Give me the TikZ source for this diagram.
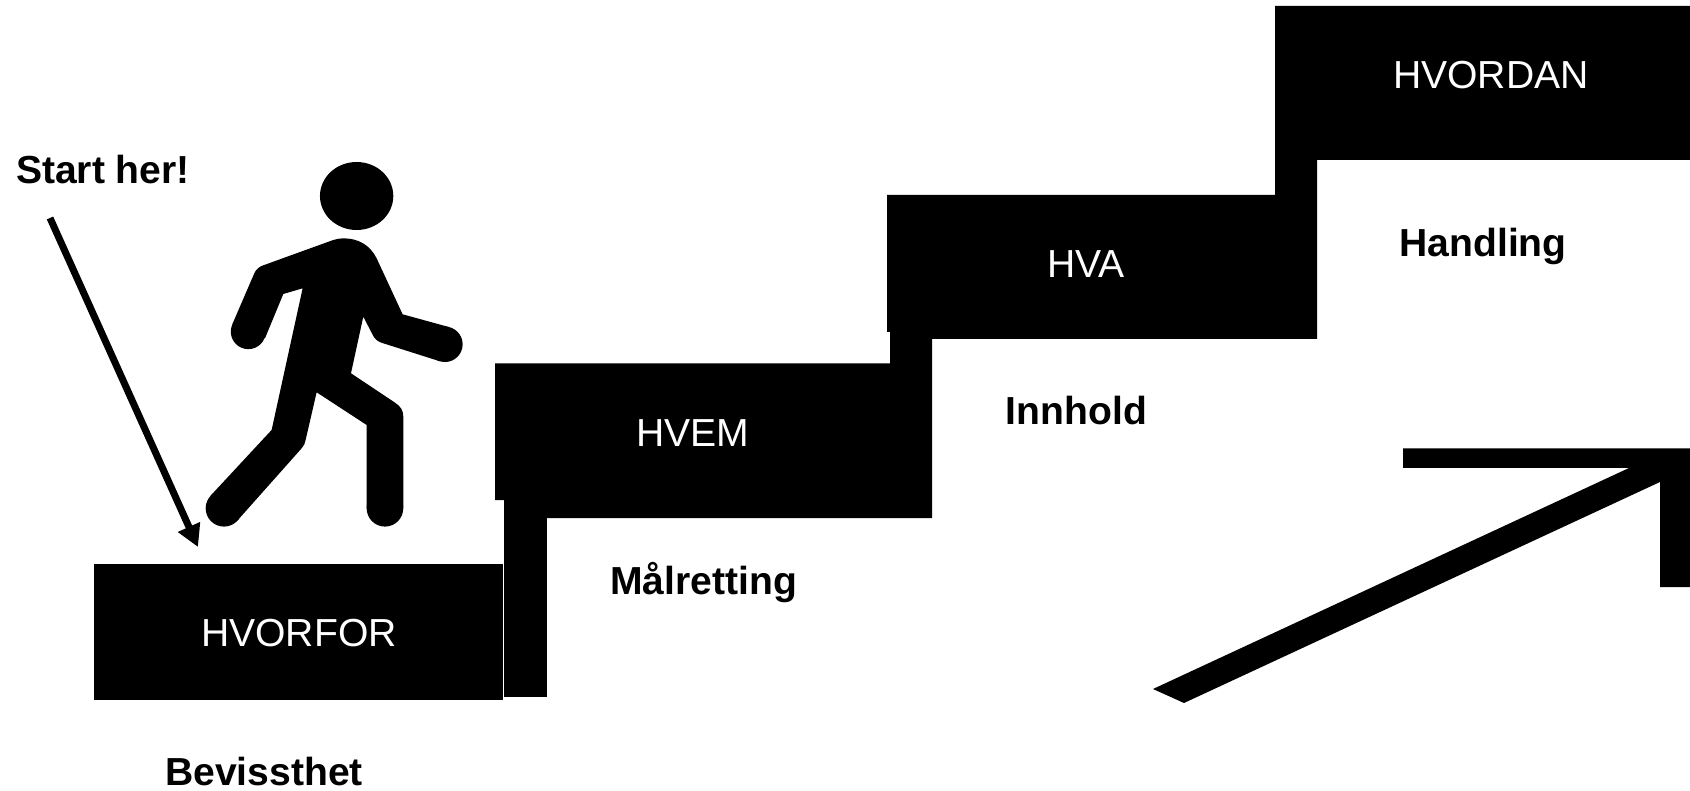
\documentclass[tikz,border=0pt]{standalone}
\usepackage{fontspec}
\setmainfont{Liberation Sans}
\usetikzlibrary{arrows.meta}
\tikzset{
  stair/.style={fill=black,draw=none},
  steplabel/.style={anchor=base,inner sep=0pt,text=white,font=\fontsize{39.1}{42}\selectfont},
  caption/.style={anchor=base,inner sep=0pt,text=black,font=\fontsize{39.1}{42}\selectfont\bfseries},
  pointer/.style={line width=7pt,-{Triangle[length=22pt,width=23pt]}}
}
\begin{document}
\begin{tikzpicture}[x=1pt,y=-1pt]
\useasboundingbox (0,0) rectangle (1690,791);
% stairs
\fill[stair] (94,564) rectangle (503,700);
\fill[stair] (504,500) rectangle (547,697);
\fill[stair] (495,363.5) -- (890,363.5) -- (890,332) -- (887,332) -- (887,195) -- (1275,195) -- (1275,6) -- (1690,6) -- (1690,160) -- (1317,160) -- (1317,339) -- (932,339) -- (932,518) -- (547,518) -- (547,500) -- (495,500) -- cycle;
% big arrow
\fill[stair] (1403,448.5) -- (1690,448.5) -- (1690,587) -- (1660,587) -- (1660,482) -- (1184,703) -- (1153,689) -- (1629,468) -- (1403,468) -- cycle;
% walking person
\begin{scope}[shift={(0,130)},x=0.3333pt,y=-0.3333pt]
\fill (1070,198) ellipse [x radius=110,y radius=102];
\fill (745,605) circle [radius=17.5pt];
\fill (1335,643) circle [radius=17.7pt];
\fill (672,1135) circle [radius=18.3pt];
\fill (1155,1135) circle [radius=18.3pt];
\fill (1030,325) .. controls (1075,325) and (1110,345) .. (1130,385)
  -- (1208,553) -- (1350,592) -- (1320,694)
  -- (1150,640) .. controls (1135,636) and (1125,628) .. (1120,618)
  -- (1090,560) -- (1053,730) -- (1185,818)
  .. controls (1203,830) and (1210,842) .. (1210,860)
  -- (1210,1135) -- (1100,1135)
  -- (1100,885) -- (950,787) -- (917,930)
  .. controls (915,940) and (912,948) .. (905,955)
  -- (712,1172) -- (632,1097)
  -- (815,900) -- (908,475) -- (850,492) -- (795,625) -- (697,583)
  -- (763,430) .. controls (768,418) and (778,410) .. (790,406)
  -- (1000,330) .. controls (1010,327) and (1020,325) .. (1030,325) -- cycle;
\end{scope}
% pointer
\coordinate (pstart) at (50,218);
\coordinate (ptip) at (198,547);
\draw[pointer] (pstart) -- (ptip);
% labels
\node[steplabel] (hvorfor) at (299,646) {HVORFOR};
\node[steplabel] (hvem) at (692.5,446.5) {HVEM};
\node[steplabel] (hva) at (1086,278) {HVA};
\node[steplabel] (hvordan) at (1491,89) {HVORDAN};
\node[caption] (start) at (103,184) {Start her!};
\node[caption] (bev) at (264,785) {Bevissthet};
\node[caption] (mal) at (703.5,594) {Målretting};
\node[caption] (inn) at (1076.5,425) {Innhold};
\node[caption] (han) at (1483,257) {Handling};
\end{tikzpicture}
\end{document}
